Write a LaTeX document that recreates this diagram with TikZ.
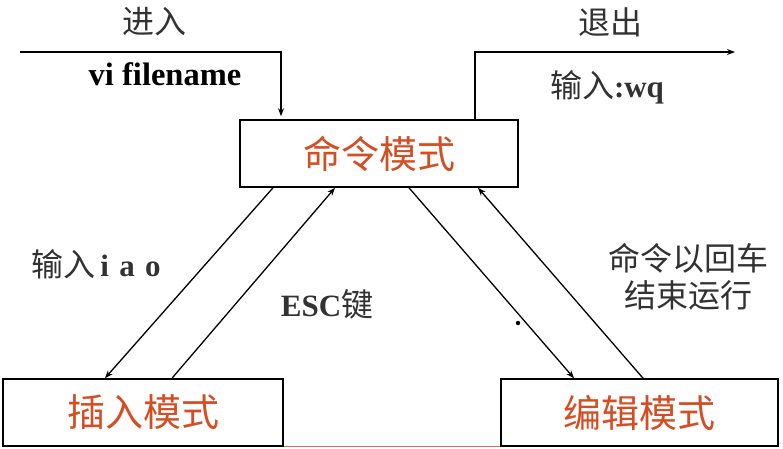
\documentclass[tikz,border=0pt]{standalone}
\usepackage{fontspec}
\setmainfont{Liberation Serif}
\newfontfamily\cjk{Noto Sans CJK SC}
\usetikzlibrary{arrows.meta,calc}
\definecolor{modered}{RGB}{212,78,36}
\definecolor{labelgray}{RGB}{50,50,50}
\definecolor{edgeorange}{RGB}{220,110,80}
\tikzset{
  modebox/.style={draw=black, line width=1.6pt, fill=white, inner sep=0pt,
    minimum width=#1, minimum height=67pt, text=modered,
    font=\cjk\fontsize{38}{40}\selectfont},
  flow/.style={draw=black, line width=1.3pt, -{Stealth[length=8pt,width=6pt]}},
  lbl/.style={text=labelgray, inner sep=0pt, font=\cjk\fontsize{32}{38}\selectfont}
}
\begin{document}
\begin{tikzpicture}[x=1pt,y=-1pt]
\useasboundingbox (0,0) rectangle (783,448);
\fill[white] (0,0) rectangle (783,448);

% mode boxes
\node[modebox=278pt] (cmd) at (379,153.5) {命令模式};
\node[modebox=280pt] (ins) at (143,412.5) {插入模式};
\node[modebox=277pt] (edt) at (639.5,412.5) {编辑模式};

% thin line along the bottom between the lower boxes
\draw[edgeorange, line width=0.9pt] (ins.south east) -- (edt.south west);

% entry and exit
\coordinate (entry) at (20,52);
\coordinate (exitpt) at (735,52);
\draw[flow, shorten >=3pt] (entry) -| ([xshift=-98pt]cmd.north);
\draw[flow] ([xshift=96pt]cmd.north) |- (exitpt);

% transitions
\draw[flow] ([xshift=-106pt]cmd.south) -- ([xshift=-38pt]ins.north);
\draw[flow] ([xshift=29pt]ins.north) -- ([xshift=-44pt]cmd.south);
\draw[flow] ([xshift=30pt]cmd.south) -- ([xshift=-65.5pt]edt.north);
\draw[flow] ([xshift=3.5pt]edt.north) -- ([xshift=99pt]cmd.south);

% stray dot
\fill[black] (518,323) circle (2.2pt);

% labels
\node[lbl] (enterlbl) at (154,22) {进入};
\node[lbl, text=black, font=\bfseries\fontsize{32.5}{36}\selectfont] (vilbl) at (165,74) {vi filename};
\node[lbl] (exitlbl) at (610,22) {退出};
\node[lbl] (wqlbl) at (607,87) {输入\textbf{\rmfamily\fontsize{31}{36}\selectfont:wq}};
\node[lbl] (iaolbl) at (96,264) {输入{\rmfamily\bfseries\fontsize{31}{36}\selectfont\,i\,\,a\,\,o}};
\node[lbl] (esclbl) at (327,304) {{\rmfamily\bfseries\fontsize{31}{36}\selectfont ESC}键};
\node[lbl, align=center, font=\cjk\fontsize{32}{37}\selectfont] (runlbl) at (688,277) {命令以回车\\结束运行};
\end{tikzpicture}
\end{document}
